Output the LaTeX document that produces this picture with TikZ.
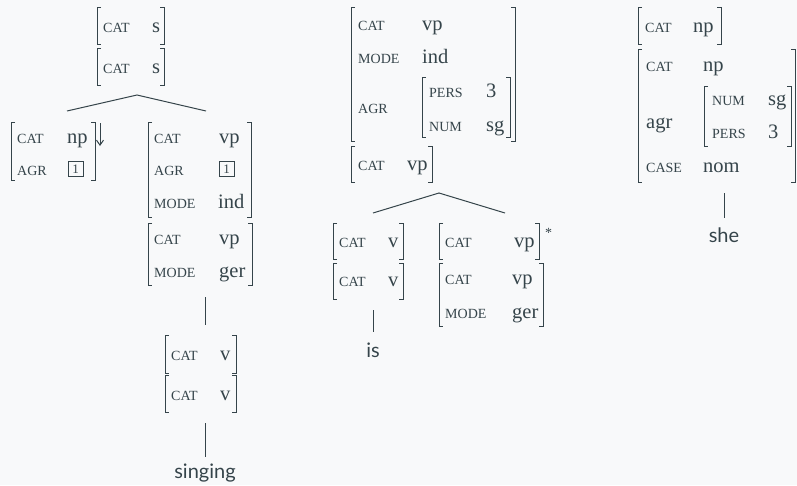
\documentclass[tikz,border=0pt]{standalone}
\usepackage{fontspec}
\usetikzlibrary{arrows.meta}
\setmainfont{Liberation Serif}
\newfontfamily\wordfont{Lato}
\definecolor{ink}{HTML}{35444A}
\definecolor{paper}{HTML}{F8F9FA}

\tikzset{
  avmbox/.style={inner sep=0pt, outer sep=0pt},
  bracket/.style={draw=ink, line width=1pt},
  branch/.style={draw=ink, line width=1pt},
  substarrow/.style={draw=ink, line width=1pt, -{Straight Barb[length=5pt, width=7pt]}},
  lbl/.style={anchor=base west, inner sep=0pt, text=ink, font=\fontsize{14}{16}\selectfont},
  val/.style={anchor=base west, inner sep=0pt, text=ink, font=\fontsize{20.5}{24}\selectfont},
  word/.style={anchor=base, inner sep=0pt, text=ink, font=\wordfont\fontsize{20}{24}\selectfont},
  tagbox/.style={draw=ink, line width=0.8pt, minimum size=15pt, inner sep=0pt, text=ink,
                 font=\fontsize{13}{14}\selectfont},
}

% an attribute-value matrix frame: name, left, top, right, bottom
\newcommand\avmframe[5]{%
  \node[avmbox, minimum width={#4-#2}, minimum height={#5-#3}] (#1) at ({(#2+#4)/2},{(#3+#5)/2}) {};
  \draw[bracket] ([xshift=4pt]#1.north west) -- (#1.north west) -- (#1.south west) -- ([xshift=4pt]#1.south west);
  \draw[bracket] ([xshift=-4pt]#1.north east) -- (#1.north east) -- (#1.south east) -- ([xshift=-4pt]#1.south east);
}

\begin{document}
\begin{tikzpicture}[x=1pt, y=-1pt]
\path[fill=paper] (0,0) rectangle (797,485);
\useasboundingbox (0,0) rectangle (797,485);

% ---------- tree 1: S -> NP VP ----------
\avmframe{sa}{97}{7}{164}{44}
\node[lbl] (sacat) at (103,32) {CAT};
\node[val] (saval) at (152,32) {s};
\avmframe{sb}{97}{48}{164}{85}
\node[lbl] (sbcat) at (103,73) {CAT};
\node[val] (sbval) at (152,73) {s};

\coordinate (sapex) at (137,95);
\coordinate (sleft) at (67,111);
\coordinate (sright) at (206,111);
\draw[branch] (sleft) -- (sapex) -- (sright);

\avmframe{np}{11}{122}{95}{180}
\node[lbl] (npcat) at (17,143.5) {CAT};
\node[val] (npval) at (67,143.5) {np};
\node[lbl] (npagr) at (17,175) {AGR};
\node[tagbox] (nptag) at (75.5,169) {1};
% substitution marker on the NP leaf
\coordinate (substtop) at (100,123);
\coordinate (substbot) at (100,146);
\draw[substarrow] (substtop) -- (substbot);

\avmframe{vpa}{148}{122}{251}{217}
\node[lbl] (vpacat) at (154,143.5) {CAT};
\node[val] (vpaval) at (219,143.5) {vp};
\node[lbl] (vpaagr) at (154,175) {AGR};
\node[tagbox] (vpatag) at (226.5,169) {1};
\node[lbl] (vpamode) at (154,208.5) {MODE};
\node[val] (vpamodev) at (218,208.5) {ind};

\avmframe{vpb}{148}{223}{252}{285}
\node[lbl] (vpbcat) at (154,244.5) {CAT};
\node[val] (vpbval) at (219,244.5) {vp};
\node[lbl] (vpbmode) at (154,277) {MODE};
\node[val] (vpbmodev) at (219,277) {ger};

\coordinate (vpbfoot) at (205,297);
\coordinate (vahead) at (205,325);
\draw[branch] (vpbfoot) -- (vahead);

\avmframe{va}{165}{335}{236}{373}
\node[lbl] (vacat) at (171,360) {CAT};
\node[val] (vaval) at (220,360) {v};
\avmframe{vb}{165}{375}{236}{412}
\node[lbl] (vbcat) at (171,400) {CAT};
\node[val] (vbval) at (220,400) {v};

\node[word] (singing) at (205,478) {singing};
\coordinate (vbfoot) at (205,423);
\draw[branch] (vbfoot) -- (singing.north |- 0,457);

% ---------- tree 2: VP -> V VP* ----------
\avmframe{vpc}{351}{7}{515}{141}
\node[lbl] (vpccat) at (358,30) {CAT};
\node[val] (vpcval) at (422,30) {vp};
\node[lbl] (vpcmode) at (358,63) {MODE};
\node[val] (vpcmodev) at (422,63) {ind};
\node[lbl] (vpcagr) at (358,113) {AGR};
\avmframe{agra}{422}{77}{510}{137}
\node[lbl] (agrapers) at (429,97) {PERS};
\node[val] (agrapersv) at (486,97) {3};
\node[lbl] (agranum) at (429,131) {NUM};
\node[val] (agranumv) at (486,131) {sg};

\avmframe{vpd}{351}{146}{432}{182}
\node[lbl] (vpdcat) at (358,170) {CAT};
\node[val] (vpdval) at (407,170) {vp};

\coordinate (vpapex) at (439,193);
\coordinate (vpleft) at (373,213);
\coordinate (vpright) at (505,213);
\draw[branch] (vpleft) -- (vpapex) -- (vpright);

\avmframe{vc}{333}{223}{403}{259}
\node[lbl] (vccat) at (339,247) {CAT};
\node[val] (vcval) at (388,247) {v};
\avmframe{vd}{333}{263}{403}{299}
\node[lbl] (vdcat) at (339,286) {CAT};
\node[val] (vdval) at (388,286) {v};

\node[word] (is) at (373,357) {is};
\coordinate (vdfoot) at (373,310);
\draw[branch] (vdfoot) -- (is.north |- 0,332);

\avmframe{vpe}{439}{223}{539}{259}
\node[lbl] (vpecat) at (445,247) {CAT};
\node[val] (vpeval) at (514,247) {vp};
\node[val, font=\fontsize{14}{16}\selectfont] (star) at (545,237) {*};

\avmframe{vpf}{439}{263}{543}{326}
\node[lbl] (vpfcat) at (445,284.5) {CAT};
\node[val] (vpfval) at (512,284.5) {vp};
\node[lbl] (vpfmode) at (445,318) {MODE};
\node[val] (vpfmodev) at (512,318) {ger};

% ---------- tree 3: NP -> she ----------
\avmframe{npa}{638}{7}{721}{44}
\node[lbl] (npacat) at (645,32) {CAT};
\node[val] (npaval) at (693,32) {np};

\avmframe{npb}{638}{49}{795}{182}
\node[lbl] (npbcat) at (646,71) {CAT};
\node[val] (npbval) at (703,71) {np};
\node[val] (npbagr) at (646,128) {agr};
\node[lbl] (npbcase) at (646,172) {CASE};
\node[val] (npbcasev) at (703,172) {nom};
\avmframe{agrb}{704}{86}{791}{146}
\node[lbl] (agrbnum) at (712,105) {NUM};
\node[val] (agrbnumv) at (768,105) {sg};
\node[lbl] (agrbpers) at (712,138) {PERS};
\node[val] (agrbpersv) at (768,138) {3};

\node[word] (she) at (724,242.5) {she};
\coordinate (npbfoot) at (724,193);
\draw[branch] (npbfoot) -- (she.north |- 0,218);
\end{tikzpicture}
\end{document}
